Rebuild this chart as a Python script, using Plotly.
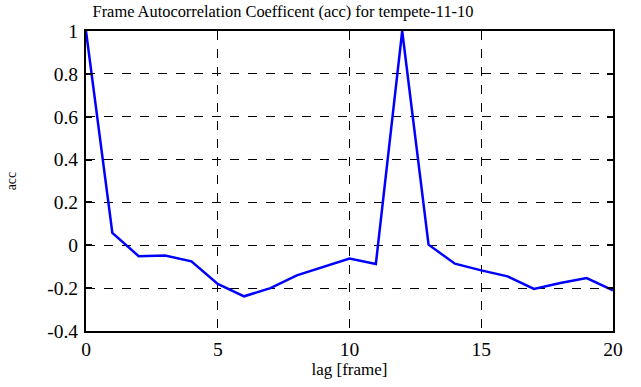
import plotly.graph_objects as go

lags = list(range(21))
acc = [1.0, 0.058, -0.051, -0.048, -0.075, -0.18, -0.238, -0.20, -0.14, -0.10,
       -0.062, -0.087, 1.0, 0.003, -0.086, -0.117, -0.145, -0.204, -0.176, -0.153, -0.21]

x_ticks = [0, 5, 10, 15, 20]
y_ticks = [-0.4, -0.2, 0, 0.2, 0.4, 0.6, 0.8, 1]
y_labels = ["-0.4", "-0.2", "0", "0.2", "0.4", "0.6", "0.8", "1"]

font = "Liberation Serif"
W, H = 641, 387

fig = go.Figure()
fig.add_trace(go.Scatter(x=lags, y=acc, mode="lines",
                         line=dict(color="#0000FF", width=2.5)))

fig.update_layout(
    width=W, height=H,
    margin=dict(l=86, r=28, t=31, b=56, autoexpand=False),
    paper_bgcolor="white", plot_bgcolor="white",
    showlegend=False,
    font=dict(family=font, size=17, color="black"),
    title=dict(text="Frame Autocorrelation Coefficent (acc) for tempete-11-10",
               x=283 / W, xanchor="center", y=1 - 11 / H, yanchor="middle",
               font=dict(family=font, size=16.4, color="black")),
    xaxis=dict(range=[0, 20], tickvals=x_ticks, ticktext=[str(v) for v in x_ticks],
               tickfont=dict(family=font, size=19.5, color="black"),
               showgrid=True, gridcolor="black", griddash="dash", gridwidth=1,
               showline=True, linecolor="black", linewidth=2, mirror=True,
               ticks="", zeroline=False, automargin=False,
               title=dict(text="lag [frame]", standoff=4,
                          font=dict(family=font, size=17, color="black"))),
    yaxis=dict(range=[-0.4, 1], tickvals=y_ticks, ticktext=y_labels,
               tickfont=dict(family=font, size=19.5, color="black"),
               ticklabelstandoff=2,
               showgrid=True, gridcolor="black", griddash="dash", gridwidth=1,
               showline=True, linecolor="black", linewidth=2, mirror="ticks",
               ticks="inside", ticklen=6, tickwidth=2, tickcolor="black",
               zeroline=False, automargin=False,
               title=dict(text="acc", standoff=27,
                          font=dict(family=font, size=14, color="black"))),
)

fig.write_html("out.html", config={"displayModeBar": False},
               post_script="document.body.style.margin='0';document.body.style.overflow='hidden';")
